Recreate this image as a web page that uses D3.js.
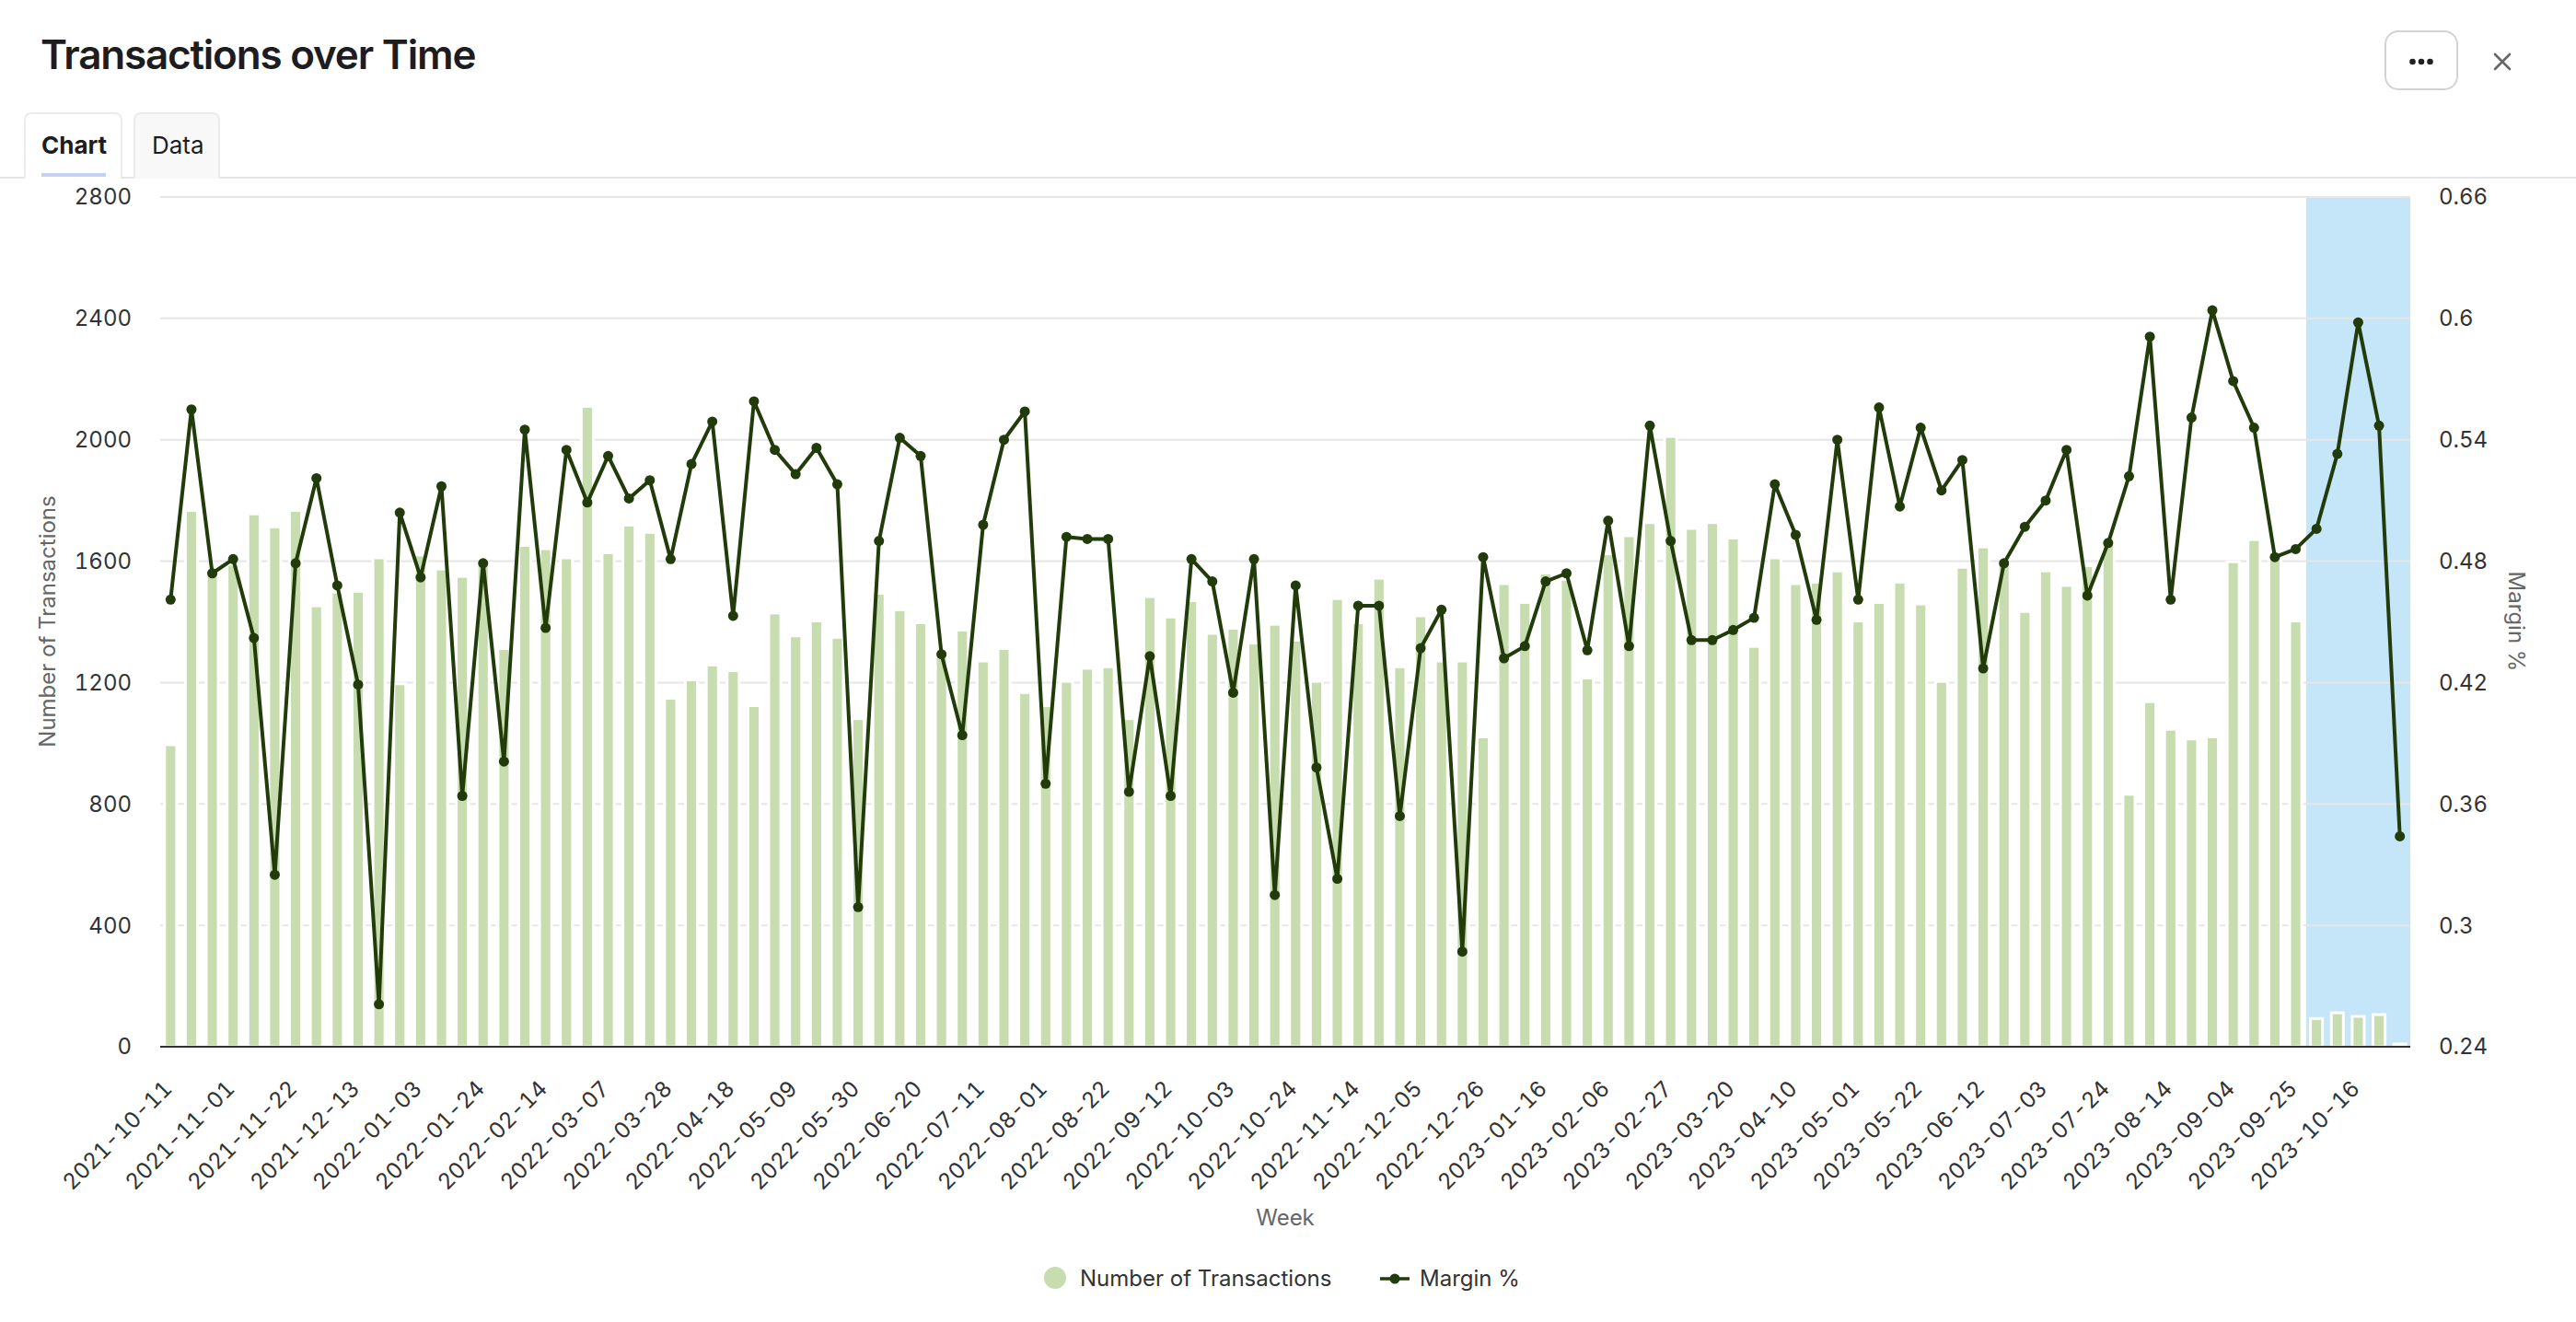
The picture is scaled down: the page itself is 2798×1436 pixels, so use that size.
<!DOCTYPE html>
<html><head><meta charset="utf-8">
<script src="https://cdn.jsdelivr.net/npm/d3@7"></script>
<style>body{margin:0;background:#fff;font-family:Inter,"Noto Sans",sans-serif}svg{display:block}.num{font-variant-numeric:tabular-nums;font-feature-settings:"tnum" 1}</style>
</head><body><svg id="c" width="2798" height="1436"></svg>
<script>
const weeks = ["2021-10-11","2021-10-18","2021-10-25","2021-11-01","2021-11-08","2021-11-15","2021-11-22","2021-11-29","2021-12-06","2021-12-13","2021-12-20","2021-12-27",
"2022-01-03","2022-01-10","2022-01-17","2022-01-24","2022-01-31","2022-02-07","2022-02-14","2022-02-21","2022-02-28","2022-03-07","2022-03-14","2022-03-21","2022-03-28","2022-04-04","2022-04-11","2022-04-18","2022-04-25","2022-05-02","2022-05-09","2022-05-16","2022-05-23","2022-05-30","2022-06-06","2022-06-13","2022-06-20","2022-06-27","2022-07-04","2022-07-11","2022-07-18","2022-07-25","2022-08-01","2022-08-08","2022-08-15","2022-08-22","2022-08-29","2022-09-05","2022-09-12","2022-09-19","2022-09-26","2022-10-03","2022-10-10","2022-10-17","2022-10-24","2022-10-31","2022-11-07","2022-11-14","2022-11-21","2022-11-28","2022-12-05","2022-12-12","2022-12-19","2022-12-26",
"2023-01-02","2023-01-09","2023-01-16","2023-01-23","2023-01-30","2023-02-06","2023-02-13","2023-02-20","2023-02-27","2023-03-06","2023-03-13","2023-03-20","2023-03-27","2023-04-03","2023-04-10","2023-04-17","2023-04-24","2023-05-01","2023-05-08","2023-05-15","2023-05-22","2023-05-29","2023-06-05","2023-06-12","2023-06-19","2023-06-26","2023-07-03","2023-07-10","2023-07-17","2023-07-24","2023-07-31","2023-08-07","2023-08-14","2023-08-21","2023-08-28","2023-09-04","2023-09-11","2023-09-18","2023-09-25","2023-10-02","2023-10-09","2023-10-16","2023-10-23","2023-10-30"];

const transactions = [995,1767,1570,1590,1756,1713,1767,1453,1498,1501,1611,1196,
1620,1574,1550,1590,1312,1652,1641,1611,2110,1628,1719,1695,1148,1209,1258,1239,1124,1429,1354,1403,1349,1081,1494,1440,1397,1290,1373,1271,1312,1167,1124,1204,1247,1252,1081,1483,1416,1470,1362,1379,1330,1392,1340,1204,1477,1397,1544,1252,1420,1271,1271,1021,
1526,1464,1561,1540,1215,1624,1684,1727,2011,1708,1727,1676,1319,1611,1526,1531,1568,1403,1464,1531,1459,1204,1580,1647,1590,1434,1568,1520,1585,1665,832,1137,1046,1014,1021,1598,1671,1630,1403,93,112,100,106,9];

const margin = [0.461,0.555,0.474,0.481,0.442,0.325,0.479,0.521,0.468,0.419,0.261,0.504,
0.472,0.517,0.364,0.479,0.381,0.545,0.447,0.535,0.509,0.532,0.511,0.520,0.481,0.528,0.549,0.453,0.559,0.535,0.523,0.536,0.518,0.309,0.490,0.541,0.532,0.434,0.394,0.498,0.540,0.554,0.370,0.492,0.491,0.491,0.366,0.433,0.364,0.481,0.470,0.415,0.481,0.315,0.468,0.378,0.323,0.458,0.458,0.354,0.437,0.456,0.287,0.482,
0.432,0.438,0.470,0.474,0.436,0.500,0.438,0.547,0.490,0.441,0.441,0.446,0.452,0.518,0.493,0.451,0.540,0.461,0.556,0.507,0.546,0.515,0.530,0.427,0.479,0.497,0.510,0.535,0.463,0.489,0.522,0.591,0.461,0.551,0.604,0.569,0.546,0.482,0.486,0.496,0.533,0.598,0.547,0.344];

const highlightWeeks = ["2023-10-02","2023-10-09","2023-10-16","2023-10-23","2023-10-30"];
const leftTicks = [0,400,800,1200,1600,2000,2400,2800];
const rightTicks = [0.24,0.3,0.36,0.42,0.48,0.54,0.6,0.66];
const xTickWeeks = weeks.filter((d,i)=>i%3===0);

const svg = d3.select('#c');
const L=174,R=2618,T=214,B=1137;
const x = d3.scaleBand().domain(weeks).range([L,R]).padding(0);
const y = d3.scaleLinear().domain([0,2800]).range([B,T]);
const y2 = d3.scaleLinear().domain([0.24,0.66]).range([B,T]);
const font = 'Inter, "Noto Sans", sans-serif';
const dark = '#223b0b';

// header
svg.append('text').attr('x',44).attr('y',75).text('Transactions over Time')
  .attr('font-family',font).attr('font-size',44).attr('font-weight',600).attr('letter-spacing',-1.2).attr('fill','#1d1d1f');
svg.append('line').attr('x1',0).attr('x2',2798).attr('y1',193).attr('y2',193).attr('stroke','#e4e4e9').attr('stroke-width',2);
function tab(x0,x1,fill){
  svg.append('path').attr('d',`M${x0},194V131Q${x0},123 ${x0+8},123H${x1-8}Q${x1},123 ${x1},131V194`)
   .attr('fill',fill).attr('stroke','#ebebeb').attr('stroke-width',2);
}
tab(27,132,'#fff'); tab(146,238,'#f8f8f8');
svg.append('text').attr('x',45).attr('y',167).text('Chart').attr('font-family',font).attr('font-size',26).attr('font-weight',700).attr('fill','#1d1d1f');
svg.append('text').attr('x',165).attr('y',167).text('Data').attr('font-family',font).attr('font-size',26).attr('font-weight',400).attr('fill','#1d1d1f');
svg.append('rect').attr('x',45).attr('y',188).attr('width',70).attr('height',4).attr('fill','#c3d1f3');
svg.append('rect').attr('x',2591).attr('y',34).attr('width',78).attr('height',63).attr('rx',14)
  .attr('fill','#fff').attr('stroke','#d3d3d6').attr('stroke-width',2);
[2620.5,2630,2639.5].forEach(cx=>svg.append('circle').attr('cx',cx).attr('cy',67).attr('r',3.3).attr('fill','#222'));
svg.append('path').attr('d','M2710,59L2726,75M2726,59L2710,75').attr('stroke','#666').attr('stroke-width',2.6).attr('stroke-linecap','round');

// highlight
const hx0 = x(highlightWeeks[0]);
svg.append('rect').attr('x',hx0).attr('y',T).attr('width',R-hx0).attr('height',B-T).attr('fill','#c5e5f8');

// grid
svg.append('g').selectAll('line').data(leftTicks).join('line')
  .attr('x1',L).attr('x2',R).attr('y1',d=>y(d)).attr('y2',d=>y(d)).attr('stroke','#e6e6e6').attr('stroke-width',2);

// bars
const bw = x.bandwidth()*0.58;
svg.append('g').selectAll('rect').data(weeks).join('rect')
  .attr('x',d=>x(d)+x.bandwidth()/2-bw/2).attr('width',bw)
  .attr('y',(d,i)=>y(transactions[i])).attr('height',(d,i)=>B-y(transactions[i]))
  .attr('fill','#c7ddb0').attr('stroke','#fff').attr('stroke-width',3);

// baseline
svg.append('line').attr('x1',L).attr('x2',R).attr('y1',B).attr('y2',B).attr('stroke','#333').attr('stroke-width',2);

// line
const cx = d=>x(d)+x.bandwidth()/2;
const line = d3.line().x((d,i)=>cx(weeks[i])).y(d=>y2(d));
svg.append('path').datum(margin).attr('d',line).attr('fill','none').attr('stroke',dark).attr('stroke-width',4).attr('stroke-linejoin','round');
svg.append('g').selectAll('circle').data(margin).join('circle')
  .attr('cx',(d,i)=>cx(weeks[i])).attr('cy',d=>y2(d)).attr('r',5.5).attr('fill',dark);

// axes labels
svg.append('g').attr('class','num').selectAll('text').data(leftTicks).join('text')
  .attr('x',143).attr('y',d=>y(d)).attr('dy','0.35em').attr('text-anchor','end').text(d=>d)
  .attr('font-family',font).attr('font-size',24).attr('fill','#333');
svg.append('g').attr('class','num').selectAll('text').data(rightTicks).join('text')
  .attr('x',2649).attr('y',d=>y2(d)).attr('dy','0.35em').attr('text-anchor','start').text(d=>d3.format('~g')(d))
  .attr('font-family',font).attr('font-size',24).attr('fill','#333');
svg.append('g').attr('class','num').selectAll('text').data(xTickWeeks).join('text')
  .attr('transform',d=>`translate(${cx(d)+3},${1184}) rotate(-45)`).attr('text-anchor','end').text(d=>d)
  .attr('font-family',font).attr('font-size',24).attr('fill','#333');
svg.append('text').attr('x',1396).attr('y',1331).attr('text-anchor','middle').text('Week')
  .attr('font-family',font).attr('font-size',24).attr('fill','#666');
svg.append('text').attr('transform','translate(60,675) rotate(-90)').attr('text-anchor','middle').text('Number of Transactions')
  .attr('font-family',font).attr('font-size',24).attr('fill','#666');
svg.append('text').attr('transform','translate(2725,675) rotate(90)').attr('text-anchor','middle').text('Margin %')
  .attr('font-family',font).attr('font-size',24).attr('fill','#666');

// legend
svg.append('circle').attr('cx',1146).attr('cy',1388).attr('r',12).attr('fill','#c7ddb0');
svg.append('text').attr('x',1173).attr('y',1397).text('Number of Transactions').attr('font-family',font).attr('font-size',24).attr('fill','#333');
svg.append('line').attr('x1',1499).attr('x2',1531).attr('y1',1389).attr('y2',1389).attr('stroke',dark).attr('stroke-width',3.5);
svg.append('circle').attr('cx',1515).attr('cy',1389).attr('r',5.5).attr('fill',dark);
svg.append('text').attr('x',1542).attr('y',1397).text('Margin %').attr('font-family',font).attr('font-size',24).attr('fill','#333');
</script></body></html>
